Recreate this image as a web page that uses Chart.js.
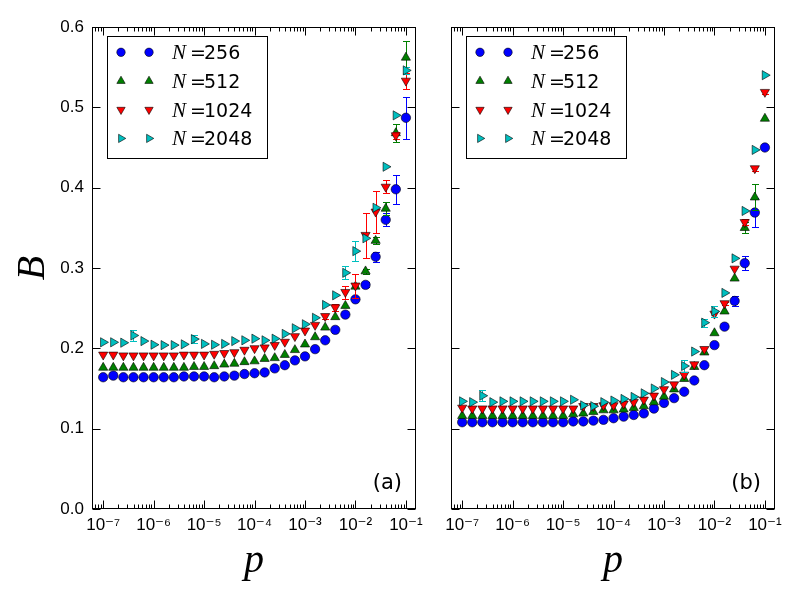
<!DOCTYPE html>
<html>
<head>
<meta charset="utf-8">
<script src="https://cdn.jsdelivr.net/npm/chart.js@4.4.0/dist/chart.umd.min.js"></script>
<style>
  body { margin: 0; background: #fff; }
  #wrap { position: relative; width: 800px; height: 600px; }
  #wrap canvas { position: absolute; left: 0; top: 0; }
</style>
</head>
<body>
<div id="wrap">
  <canvas id="chartA" width="800" height="600"></canvas>
  <canvas id="chartB" width="800" height="600"></canvas>
</div>
<script>
// p values, 5 per decade
const pValues = [
  1e-7, 1.585e-7, 2.512e-7, 3.981e-7, 6.310e-7,
  1e-6, 1.585e-6, 2.512e-6, 3.981e-6, 6.310e-6,
  1e-5, 1.585e-5, 2.512e-5, 3.981e-5, 6.310e-5,
  1e-4, 1.585e-4, 2.512e-4, 3.981e-4, 6.310e-4,
  1e-3, 1.585e-3, 2.512e-3, 3.981e-3, 6.310e-3,
  1e-2, 1.585e-2, 2.512e-2, 3.981e-2, 6.310e-2,
  1e-1
];

const seriesNames = ['256', '512', '1024', '2048'];

// panel (a)
const a256 = [0.164, 0.166, 0.164, 0.164, 0.164, 0.164, 0.164, 0.164, 0.165, 0.165,
  0.165, 0.164, 0.165, 0.166, 0.168, 0.169, 0.170, 0.175, 0.179, 0.185,
  0.190, 0.199, 0.210, 0.223, 0.242, 0.261, 0.279, 0.314, 0.360, 0.398, 0.487];
const a512 = [0.176, 0.176, 0.176, 0.176, 0.176, 0.176, 0.176, 0.176, 0.176, 0.177,
  0.177, 0.178, 0.180, 0.181, 0.183, 0.184, 0.187, 0.188, 0.192, 0.198,
  0.205, 0.214, 0.226, 0.239, 0.253, 0.277, 0.296, 0.334, 0.374, 0.468, 0.562];
const a1024 = [0.192, 0.192, 0.191, 0.191, 0.191, 0.191, 0.191, 0.191, 0.192, 0.192,
  0.192, 0.193, 0.194, 0.195, 0.198, 0.200, 0.201, 0.204, 0.208, 0.215,
  0.222, 0.229, 0.240, 0.251, 0.270, 0.278, 0.341, 0.370, 0.401, 0.465, 0.533];
const a2048 = [0.2075, 0.2075, 0.207, 0.216, 0.209, 0.2045, 0.204, 0.204, 0.205, 0.2115,
  0.2055, 0.2045, 0.2055, 0.209, 0.210, 0.212, 0.210, 0.212, 0.218, 0.225,
  0.230, 0.238, 0.254, 0.266, 0.294, 0.321, 0.337, 0.375, 0.426, 0.490, 0.546];

const ea256 = [0, 0, 0, 0, 0, 0, 0, 0, 0, 0,
  0, 0, 0, 0, 0, 0, 0, 0, 0, 0,
  0, 0, 0, 0, 0.002, 0.002, 0.003, 0.006, 0.008, 0.018, 0.026];
const ea512 = [0, 0, 0, 0, 0, 0, 0, 0, 0, 0,
  0, 0, 0, 0, 0, 0, 0, 0, 0, 0,
  0, 0, 0, 0, 0, 0, 0.003, 0.004, 0.008, 0.011, 0.021];
const ea1024 = [0, 0, 0, 0, 0, 0, 0, 0, 0, 0,
  0, 0, 0, 0, 0, 0, 0, 0, 0, 0,
  0, 0, 0.003, 0.004, 0.008, 0.015, 0.028, 0.026, 0.008, 0.004, 0.010];
const ea2048 = [0, 0, 0, 0.007, 0, 0, 0, 0, 0, 0.005,
  0, 0, 0, 0, 0, 0, 0, 0, 0, 0,
  0, 0, 0, 0, 0.008, 0.012, 0, 0, 0, 0, 0.004];

// panel (b)
const b256 = [0.108, 0.108, 0.108, 0.108, 0.108, 0.108, 0.108, 0.108, 0.108, 0.108,
  0.108, 0.109, 0.109, 0.110, 0.111, 0.113, 0.115, 0.117, 0.119, 0.125,
  0.132, 0.138, 0.146, 0.160, 0.179, 0.204, 0.227, 0.259, 0.306, 0.369, 0.450];
const b512 = [0.116, 0.116, 0.116, 0.116, 0.116, 0.116, 0.116, 0.116, 0.116, 0.116,
  0.116, 0.118, 0.119, 0.121, 0.123, 0.123, 0.124, 0.126, 0.128, 0.133,
  0.140, 0.149, 0.162, 0.177, 0.195, 0.219, 0.246, 0.287, 0.350, 0.388, 0.486];
const b1024 = [0.126, 0.125, 0.125, 0.125, 0.125, 0.125, 0.125, 0.125, 0.125, 0.125,
  0.125, 0.125, 0.128, 0.128, 0.129, 0.129, 0.131, 0.133, 0.136, 0.141,
  0.149, 0.155, 0.167, 0.180, 0.199, 0.243, 0.256, 0.299, 0.357, 0.424, 0.519];
const b2048 = [0.134, 0.133, 0.141, 0.133, 0.134, 0.134, 0.134, 0.134, 0.134, 0.134,
  0.134, 0.136, 0.129, 0.128, 0.133, 0.135, 0.137, 0.1395, 0.144, 0.150,
  0.158, 0.167, 0.178, 0.196, 0.232, 0.246, 0.269, 0.312, 0.371, 0.447, 0.540];

const eb256 = [0, 0, 0, 0, 0, 0, 0, 0, 0, 0,
  0, 0, 0, 0, 0, 0, 0, 0, 0, 0,
  0, 0, 0, 0, 0, 0, 0, 0.006, 0.009, 0.018, 0];
const eb512 = [0, 0, 0, 0, 0, 0, 0, 0, 0, 0,
  0, 0, 0, 0, 0, 0, 0, 0, 0, 0,
  0, 0, 0, 0, 0, 0, 0, 0, 0.007, 0.016, 0];
const eb1024 = [0, 0, 0, 0, 0, 0, 0, 0, 0, 0,
  0, 0, 0, 0, 0, 0, 0, 0, 0, 0,
  0, 0, 0, 0, 0, 0, 0.002, 0, 0.004, 0.003, 0.003];
const eb2048 = [0, 0, 0.007, 0, 0, 0, 0, 0, 0, 0,
  0, 0, 0, 0, 0, 0, 0, 0, 0, 0,
  0, 0, 0.008, 0, 0.005, 0.007, 0, 0, 0, 0, 0];

const xTickValues = [1e-7, 1e-6, 1e-5, 1e-4, 1e-3, 1e-2, 1e-1];
const xTickLabels = ['10⁻⁷', '10⁻⁶', '10⁻⁵', '10⁻⁴', '10⁻³', '10⁻²', '10⁻¹'];
const yTickLabels = ['0.0', '0.1', '0.2', '0.3', '0.4', '0.5', '0.6'];

const colors = ['#0000ff', '#008000', '#ff0000', '#00bfbf'];
const shapes = ['circle', 'triangle', 'triangle', 'triangle'];
const rotations = [0, 0, 180, 90];
const radii = [4.7, 5.3, 5.3, 5.3];

Chart.defaults.font.family = "'Liberation Sans', 'DejaVu Sans', sans-serif";
Chart.defaults.color = '#000';

function makeSets(values, errs) {
  return values.map(function (vals, i) {
    return {
      label: 'N=' + seriesNames[i],
      data: vals.map(function (v, j) { return { x: pValues[j], y: v }; }),
      errors: errs[i],
      errColor: colors[i],
      backgroundColor: colors[i],
      borderColor: '#000',
      pointBackgroundColor: colors[i],
      pointBorderColor: '#000',
      pointBorderWidth: 0.6,
      pointStyle: shapes[i],
      pointRotation: rotations[i],
      pointRadius: radii[i],
      showLine: false,
      order: 4 - i
    };
  });
}

function drawMarker(ctx, i, x, y, r) {
  ctx.beginPath();
  if (shapes[i] === 'circle') {
    ctx.arc(x, y, r, 0, Math.PI * 2);
  } else {
    const rot = rotations[i] * Math.PI / 180;
    for (let k = 0; k < 3; k++) {
      const a = rot + k * 2 * Math.PI / 3;
      const px = x + Math.sin(a) * r, py = y - Math.cos(a) * r;
      if (k) ctx.lineTo(px, py); else ctx.moveTo(px, py);
    }
    ctx.closePath();
  }
  ctx.fillStyle = colors[i];
  ctx.fill();
  ctx.lineWidth = 0.6;
  ctx.strokeStyle = '#000';
  ctx.stroke();
}

// error bars, drawn just below each series' markers
const errorBars = {
  id: 'errorBars',
  beforeDatasetDraw(chart, args) {
    const ds = chart.data.datasets[args.index];
    if (!ds.errors) return;
    const ctx = chart.ctx, ys = chart.scales.y, a = chart.chartArea;
    ctx.save();
    ctx.beginPath();
    ctx.rect(a.left, a.top, a.right - a.left, a.bottom - a.top);
    ctx.clip();
    ctx.strokeStyle = ds.errColor;
    ctx.lineWidth = 1;
    args.meta.data.forEach(function (pt, i) {
      const e = ds.errors[i];
      if (!e) return;
      const v = ds.data[i].y;
      const y1 = Math.round(ys.getPixelForValue(v - e)) + 0.5;
      const y2 = Math.round(ys.getPixelForValue(v + e)) + 0.5;
      const x = Math.round(pt.x) + 0.5;
      ctx.beginPath();
      ctx.moveTo(x, y1); ctx.lineTo(x, y2);
      ctx.moveTo(x - 3.5, y1); ctx.lineTo(x + 3.5, y1);
      ctx.moveTo(x - 3.5, y2); ctx.lineTo(x + 3.5, y2);
      ctx.stroke();
    });
    ctx.restore();
  }
};

// box, inward ticks, legend and panel tag
const frame = {
  id: 'frame',
  afterDraw(chart, args, opts) {
    const ctx = chart.ctx, a = chart.chartArea, xs = chart.scales.x, ys = chart.scales.y;
    const L = Math.round(a.left) + 0.5, R = Math.round(a.right) - 0.5;
    const T = Math.round(a.top) + 0.5, B = Math.round(a.bottom) - 0.5;
    ctx.save();
    ctx.strokeStyle = '#000';
    ctx.lineWidth = 1;
    ctx.beginPath();
    // x ticks
    for (let d = -8; d <= -1; d++) {
      for (let m = 1; m <= 9; m++) {
        const v = m * Math.pow(10, d);
        if (v < xs.min || v > xs.max) continue;
        const len = m === 1 ? 8 : 4;
        const x = Math.round(xs.getPixelForValue(v)) + 0.5;
        ctx.moveTo(x, B); ctx.lineTo(x, B - len);
        ctx.moveTo(x, T); ctx.lineTo(x, T + len);
      }
    }
    // y ticks
    yTickLabels.forEach(function (t) {
      const y = Math.round(ys.getPixelForValue(parseFloat(t))) + 0.5;
      ctx.moveTo(L, y); ctx.lineTo(L + 8, y);
      ctx.moveTo(R, y); ctx.lineTo(R - 8, y);
    });
    ctx.stroke();
    ctx.strokeRect(L, T, R - L, B - T);

    // legend
    const lx = a.left + 15, ly = a.top + 9;
    ctx.fillStyle = '#fff';
    ctx.fillRect(lx + 0.5, ly + 0.5, 160, 122);
    ctx.strokeRect(lx + 0.5, ly + 0.5, 160, 122);
    chart.data.datasets.forEach(function (ds, i) {
      const cy = ly + 16.3 + i * 28.7;
      drawMarker(ctx, i, lx + 14, cy, i === 0 ? 4.2 : 4.8);
      drawMarker(ctx, i, lx + 42, cy, i === 0 ? 4.2 : 4.8);
      ctx.fillStyle = '#000';
      ctx.textBaseline = 'alphabetic';
      ctx.textAlign = 'left';
      ctx.font = "italic 21px 'Liberation Serif', 'DejaVu Serif', serif";
      ctx.fillText('N', lx + 65, cy + 7);
      ctx.font = "19px 'DejaVu Sans', sans-serif";
      ctx.fillText('=', lx + 83, cy + 7);
      ctx.fillText(seriesNames[i], lx + 97, cy + 7);
    });

    // panel tag
    ctx.fillStyle = '#000';
    ctx.textAlign = 'right';
    ctx.textBaseline = 'alphabetic';
    ctx.font = "21px 'DejaVu Sans', sans-serif";
    ctx.fillText(opts.tag, a.right - 14, a.bottom - 20);
    ctx.restore();
  }
};

function makeChart(id, values, errs, tag, isLeft) {
  return new Chart(document.getElementById(id), {
    type: 'scatter',
    data: { datasets: makeSets(values, errs) },
    plugins: [errorBars, frame],
    options: {
      responsive: false,
      animation: false,
      devicePixelRatio: 1,
      events: [],
      layout: { padding: { left: 0, top: 27, right: isLeft ? 384 : 25, bottom: 0 } },
      plugins: {
        legend: { display: false },
        tooltip: { enabled: false },
        frame: { tag: tag }
      },
      scales: {
        x: {
          type: 'logarithmic',
          min: Math.pow(10, -7.2),
          max: Math.pow(10, -0.8),
          grid: { display: false, drawTicks: false },
          border: { display: false },
          afterBuildTicks: function (scale) {
            scale.ticks = xTickValues.map(function (v) { return { value: v }; });
          },
          afterFit: function (scale) { scale.height = 91; },
          ticks: {
            autoSkip: false,
            maxRotation: 0,
            padding: 6,
            font: { size: 17 },
            callback: function (v, i) { return xTickLabels[i]; }
          },
          title: {
            display: true,
            text: 'p',
            font: { family: "'Liberation Serif', 'DejaVu Serif', serif", style: 'italic', size: 40 },
            padding: { top: 0, bottom: 15 }
          }
        },
        y: {
          min: 0,
          max: 0.6,
          grid: { display: false, drawTicks: false },
          border: { display: false },
          afterFit: function (scale) { scale.width = isLeft ? 92 : 451; },
          ticks: {
            display: isLeft,
            stepSize: 0.1,
            padding: 8,
            font: { size: 17 },
            callback: function (v, i) { return yTickLabels[i]; }
          },
          title: {
            display: isLeft,
            text: 'B',
            font: { family: "'Liberation Serif', 'DejaVu Serif', serif", style: 'italic', size: 40 },
            padding: { top: 9, bottom: 0 }
          }
        }
      }
    }
  });
}

makeChart('chartA', [a256, a512, a1024, a2048], [ea256, ea512, ea1024, ea2048], '(a)', true);
makeChart('chartB', [b256, b512, b1024, b2048], [eb256, eb512, eb1024, eb2048], '(b)', false);
</script>
</body>
</html>
